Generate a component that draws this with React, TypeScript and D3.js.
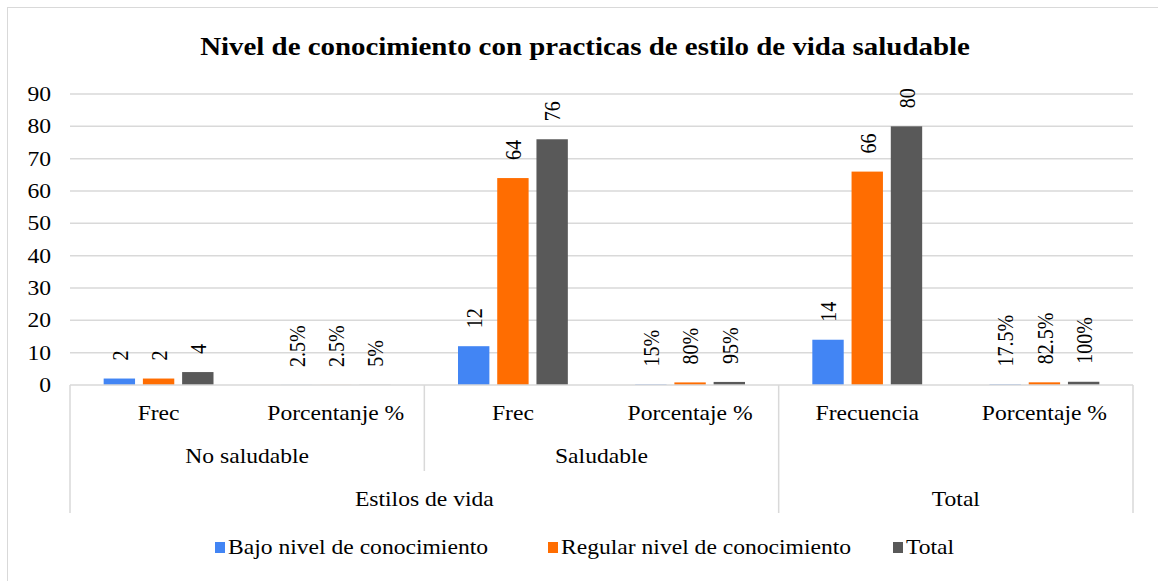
import * as d3 from 'd3';

const WIDTH = 1158;
const HEIGHT = 581;

const categories = ['Frec', 'Porcentanje %', 'Frec', 'Porcentaje %', 'Frecuencia', 'Porcentaje %'];
const subGroups = [
  {label: 'No saludable', from: 0, to: 2},
  {label: 'Saludable', from: 2, to: 4},
];
const topGroups = [
  {label: 'Estilos de vida', from: 0, to: 4},
  {label: 'Total', from: 4, to: 6},
];

const seriesNames = ['Bajo nivel de conocimiento', 'Regular nivel de conocimiento', 'Total'];
const seriesColors = ['#4285f4', '#ff6d01', '#595959'];

const bajo = [2, 0.025, 12, 0.15, 14, 0.175];
const regular = [2, 0.025, 64, 0.8, 66, 0.825];
const total = [4, 0.05, 76, 0.95, 80, 1];

const bajoLabels = ['2', '2.5%', '12', '15%', '14', '17.5%'];
const regularLabels = ['2', '2.5%', '64', '80%', '66', '82.5%'];
const totalLabels = ['4', '5%', '76', '95%', '80', '100%'];

const yTicks = [0, 10, 20, 30, 40, 50, 60, 70, 80, 90];

const FONT = "'Liberation Serif', 'Times New Roman', serif";
const GRID = '#d9d9d9';
// the source picture is a little stretched sideways
const SX = 1.18;

const margin = {left: 70, right: 25, top: 94, bottom: 196};

type LabelProps = {
  x: number;
  y: number;
  size?: number;
  anchor?: 'start' | 'middle' | 'end';
  bold?: boolean;
  children: string | number;
};

function Label({x, y, size = 20, anchor = 'middle', bold = false, children}: LabelProps) {
  return (
    <text
      transform={`translate(${x},${y}) scale(${SX},1)`}
      dy="0.35em"
      textAnchor={anchor}
      fontSize={size}
      fontWeight={bold ? 'bold' : 'normal'}
      fill="#000"
      style={{fontFamily: FONT}}
    >
      {children}
    </text>
  );
}

function App() {
  const values = [bajo, regular, total];
  const labels = [bajoLabels, regularLabels, totalLabels];

  const x = d3
    .scaleBand<number>()
    .domain(d3.range(categories.length))
    .range([margin.left, WIDTH - margin.right]);
  const catW = x.bandwidth();

  const inner = d3
    .scaleBand<number>()
    .domain(d3.range(seriesNames.length))
    .range([catW * 0.19, catW * 0.81])
    .paddingInner(0.2);

  const y = d3
    .scaleLinear()
    .domain([0, 90])
    .range([HEIGHT - margin.bottom, margin.top]);

  const base = y(0);
  const edge = (i: number) => (i < categories.length ? x(i)! : x(categories.length - 1)! + catW);
  const row1 = base + 28;
  const row2 = base + 71;
  const row3 = base + 114;
  const axisBottom = base + 128;

  const legendX = [215, 548, 893];

  return (
    <svg
      width={WIDTH}
      height={HEIGHT}
      style={{position: 'absolute', left: 0, top: 0, background: '#fff', fontFamily: FONT}}
    >
      <rect x={7.5} y={7.5} width={1200} height={600} fill="#fff" stroke={GRID} />

      <Label x={585} y={46} size={24.5} bold>
        Nivel de conocimiento con practicas de estilo de vida saludable
      </Label>

      {yTicks.map((t) => (
        <g key={t}>
          {t > 0 && (
            <line x1={margin.left} x2={WIDTH - margin.right} y1={y(t)} y2={y(t)} stroke={GRID} strokeWidth={1.5} />
          )}
          <Label x={51} y={y(t)} anchor="end">
            {t}
          </Label>
        </g>
      ))}

      {values.map((vals, s) =>
        vals.map((v, i) => (
          <rect
            key={`${s}-${i}`}
            x={x(i)! + inner(s)!}
            y={y(v)}
            width={inner.bandwidth()}
            height={base - y(v)}
            fill={seriesColors[s]}
          />
        )),
      )}

      {labels.map((labs, s) =>
        labs.map((l, i) => {
          const cx = x(i)! + inner(s)! + inner.bandwidth() / 2;
          const cy = y(values[s][i]) - 18;
          return (
            <text
              key={`l${s}-${i}`}
              transform={`translate(${cx},${cy}) scale(${SX},1) rotate(-90)`}
              dy="0.35em"
              fontSize={20}
              fill="#000"
              style={{fontFamily: FONT}}
            >
              {l}
            </text>
          );
        }),
      )}

      <line x1={margin.left} x2={WIDTH - margin.right} y1={base} y2={base} stroke={GRID} strokeWidth={1.5} />
      <line x1={edge(0)} x2={edge(0)} y1={base} y2={axisBottom} stroke={GRID} strokeWidth={1.5} />
      <line x1={edge(6)} x2={edge(6)} y1={base} y2={axisBottom} stroke={GRID} strokeWidth={1.5} />
      {subGroups.slice(0, -1).map((g) => (
        <line key={g.label} x1={edge(g.to)} x2={edge(g.to)} y1={base} y2={base + 86} stroke={GRID} strokeWidth={1.5} />
      ))}
      {topGroups.slice(0, -1).map((g) => (
        <line key={g.label} x1={edge(g.to)} x2={edge(g.to)} y1={base} y2={axisBottom} stroke={GRID} strokeWidth={1.5} />
      ))}

      {categories.map((c, i) => (
        <Label key={`c${i}`} x={x(i)! + catW / 2} y={row1}>
          {c}
        </Label>
      ))}
      {subGroups.map((g) => (
        <Label key={g.label} x={(edge(g.from) + edge(g.to)) / 2} y={row2}>
          {g.label}
        </Label>
      ))}
      {topGroups.map((g) => (
        <Label key={g.label} x={(edge(g.from) + edge(g.to)) / 2} y={row3}>
          {g.label}
        </Label>
      ))}

      {seriesNames.map((n, s) => (
        <g key={n}>
          <rect x={legendX[s]} y={542} width={10} height={11} fill={seriesColors[s]} />
          <Label x={legendX[s] + 13} y={547} anchor="start">
            {n}
          </Label>
        </g>
      ))}
    </svg>
  );
}

export default App;
